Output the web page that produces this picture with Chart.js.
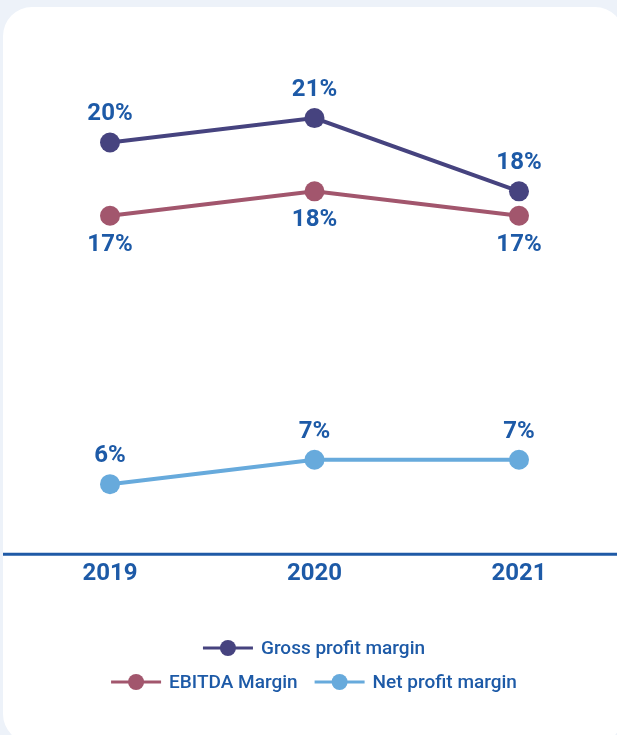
<!DOCTYPE html>
<html>
<head>
<meta charset="utf-8">
<script src="https://cdn.jsdelivr.net/npm/chart.js@4.4.1/dist/chart.umd.min.js"></script>
<style>
  html, body { margin: 0; padding: 0; width: 617px; height: 735px; overflow: hidden; background: #edf2f9; }
  .card { position: absolute; left: 3px; top: 7px; width: 621px; height: 736px; background: #ffffff; border-radius: 29px; }
  #wrap { position: absolute; left: 0; top: 0; width: 617px; height: 735px; }
</style>
</head>
<body>
<div class="card"></div>
<div id="wrap"><canvas id="chart"></canvas></div>
<script>
// Margins by year, in percent
const years = ['2019', '2020', '2021'];
const grossMargin = [20, 21, 18];
const ebitdaMargin = [17, 18, 17];
const netMargin = [6, 7, 7];

const seriesNames = ['Gross profit margin', 'EBITDA Margin', 'Net profit margin'];
const seriesColors = ['#46437f', '#a2566d', '#67aadc'];
const labelSides = ['top', 'bottom', 'top'];

const textBlue = '#1d5aa7';
const fontFamily = 'Roboto, "Liberation Sans", Arial, sans-serif';

// Full-width baseline under the plot
const baselinePlugin = {
  id: 'baseline',
  beforeDatasetsDraw(chart) {
    const ctx = chart.ctx;
    const y = chart.chartArea.bottom;
    ctx.save();
    ctx.strokeStyle = '#1f5aa6';
    ctx.lineWidth = 3;
    ctx.beginPath();
    ctx.moveTo(3, y);
    ctx.lineTo(chart.width, y);
    ctx.stroke();
    ctx.restore();
  }
};

// Percentage labels next to every point
const valueLabelPlugin = {
  id: 'valueLabels',
  afterDatasetsDraw(chart) {
    const ctx = chart.ctx;
    ctx.save();
    ctx.font = 'bold 24px ' + fontFamily;
    ctx.fillStyle = textBlue;
    ctx.textAlign = 'center';
    ctx.textBaseline = 'middle';
    chart.data.datasets.forEach((ds, i) => {
      const meta = chart.getDatasetMeta(i);
      const dy = labelSides[i] === 'top' ? -28 : 29;
      meta.data.forEach((pt, j) => {
        ctx.fillText(ds.data[j] + '%', pt.x, pt.y + dy);
      });
    });
    ctx.restore();
  }
};

// Legend: line-and-dot markers, two centred rows
const legendRows = [[0], [1, 2]];
const legendPlugin = {
  id: 'lineLegend',
  afterDraw(chart) {
    const ctx = chart.ctx;
    const markerW = 50, gap = 8, itemGap = 17;
    const rowY = [648, 682];
    const centerX = 314;
    ctx.save();
    ctx.font = '500 19px ' + fontFamily;
    ctx.textBaseline = 'middle';
    ctx.textAlign = 'left';
    legendRows.forEach((row, r) => {
      const widths = row.map(i => markerW + gap + ctx.measureText(chart.data.datasets[i].label).width);
      const total = widths.reduce((a, b) => a + b, 0) + itemGap * (row.length - 1);
      let x = centerX - total / 2;
      const y = rowY[r];
      row.forEach((i, k) => {
        const ds = chart.data.datasets[i];
        ctx.strokeStyle = ds.borderColor;
        ctx.lineWidth = 3;
        ctx.beginPath();
        ctx.moveTo(x, y);
        ctx.lineTo(x + markerW, y);
        ctx.stroke();
        ctx.fillStyle = ds.borderColor;
        ctx.beginPath();
        ctx.arc(x + markerW / 2, y, 8, 0, Math.PI * 2);
        ctx.fill();
        ctx.fillStyle = textBlue;
        ctx.fillText(ds.label, x + markerW + gap, y + 1);
        x += widths[k] + itemGap;
      });
    });
    ctx.restore();
  }
};

const seriesValues = [grossMargin, ebitdaMargin, netMargin];

new Chart(document.getElementById('chart'), {
  type: 'line',
  data: {
    labels: years,
    datasets: seriesValues.map((vals, i) => ({
      label: seriesNames[i],
      data: vals,
      borderColor: seriesColors[i],
      backgroundColor: seriesColors[i],
      pointBackgroundColor: seriesColors[i],
      pointBorderWidth: 0,
      pointRadius: 10,
      borderWidth: 4,
      tension: 0,
      fill: false
    }))
  },
  options: {
    responsive: true,
    maintainAspectRatio: false,
    animation: false,
    layout: { padding: { left: 110, right: 98, top: 40, bottom: 142 } },
    plugins: {
      legend: { display: false },
      tooltip: { enabled: false }
    },
    scales: {
      y: { display: false, min: 3.13, max: 24.2 },
      x: {
        offset: false,
        grid: { display: false, drawTicks: false },
        border: { display: false },
        ticks: {
          color: textBlue,
          padding: 5,
          font: { family: fontFamily, size: 24, weight: 'bold' }
        }
      }
    }
  },
  plugins: [baselinePlugin, valueLabelPlugin, legendPlugin]
});
</script>
</body>
</html>
